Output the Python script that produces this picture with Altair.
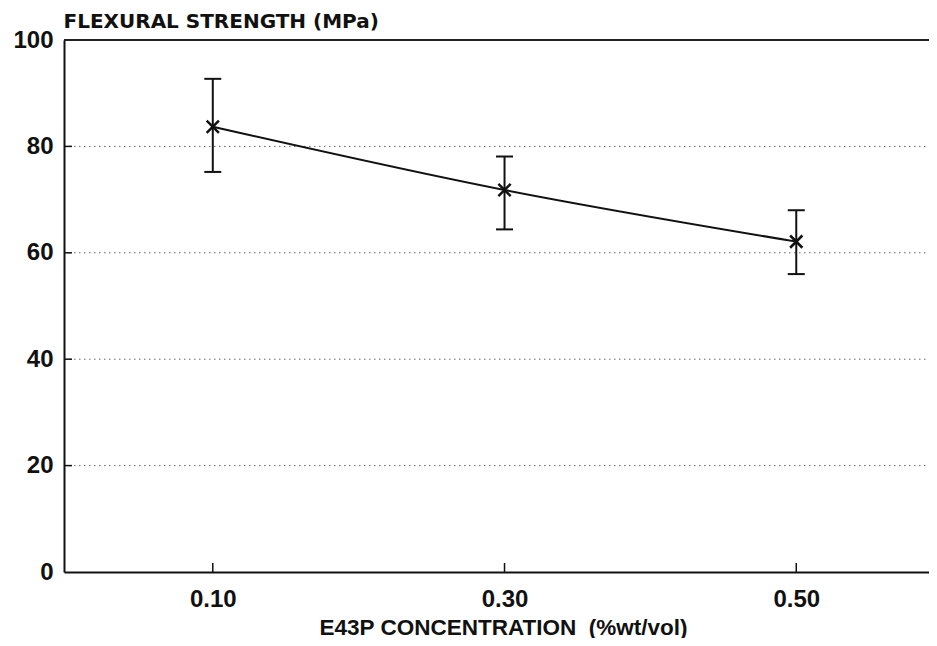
import altair as alt
import pandas as pd

# ---- data ----
concentration = [0.10, 0.30, 0.50]
strength_mean = [83.7, 71.8, 62.1]
strength_upper = [92.7, 78.1, 68.0]
strength_lower = [75.2, 64.4, 56.0]
x_tick_values = [0.10, 0.30, 0.50]
y_tick_values = [0, 20, 40, 60, 80, 100]
grid_values = [20, 40, 60, 80]

W, H = 865, 532

df = pd.DataFrame({
    "conc": concentration,
    "mean": strength_mean,
    "upper": strength_upper,
    "lower": strength_lower,
})
xticks_df = pd.DataFrame({"conc": x_tick_values})
grid_df = pd.DataFrame({"v": grid_values, "conc": [0.1, 0.1, 0.1, 0.1]})

xscale = alt.Scale(domain=[-0.002, 0.591], nice=False, zero=False)
yscale = alt.Scale(domain=[0, 100], nice=False)

x_axis = alt.Axis(
    values=x_tick_values, format=".2f", ticks=False, tickSize=0,
    grid=False, domainColor="#111", domainWidth=2,
    labelFont="Liberation Sans", labelFontWeight="bold", labelFontSize=24,
    labelColor="#111", labelPadding=15, labelBaseline="top",
    title="E43P CONCENTRATION \u00a0(%wt/vol)",
    titleFont="Liberation Sans", titleFontWeight="bold", titleFontSize=22.5,
    titleColor="#111", titleBaseline="alphabetic", titleAlign="center",
    titleX=439, titleY=62,
)
y_axis = alt.Axis(
    values=y_tick_values, ticks=False, tickSize=0, grid=False,
    domainColor="#111", domainWidth=2,
    labelFont="Liberation Sans", labelFontWeight="bold", labelFontSize=24,
    labelColor="#111", labelPadding=11, labelAlign="right",
    labelBaseline="middle",
    title="FLEXURAL STRENGTH (MPa)",
    titleFont="DejaVu Sans", titleFontWeight="bold", titleFontSize=20,
    titleColor="#111", titleAngle=0, titleAlign="left",
    titleBaseline="alphabetic", titleX=-1, titleY=-13,
)

base = alt.Chart(df)

grid = alt.Chart(grid_df).mark_rule(color="#666", strokeWidth=1, strokeDash=[1.5, 3.5]).encode(
    y=alt.Y("v:Q", scale=yscale, axis=y_axis),
    x=alt.value(0), x2=alt.value(W),
)

line = base.mark_line(interpolate="monotone", color="#111", strokeWidth=2).encode(
    x=alt.X("conc:Q", scale=xscale, axis=x_axis),
    y=alt.Y("mean:Q", scale=yscale),
)

yticks = alt.Chart(grid_df).mark_rule(color="#111", strokeWidth=1.5).encode(
    y=alt.Y("v:Q", scale=yscale),
    x=alt.value(0), x2=alt.value(8),
)

xticks = alt.Chart(xticks_df).mark_rule(color="#111", strokeWidth=1.5).encode(
    x=alt.X("conc:Q", scale=xscale),
    y=alt.value(H), y2=alt.value(H - 9),
)

top_border = alt.Chart(xticks_df).mark_rule(color="#222", strokeWidth=2).encode(
    x=alt.value(0), x2=alt.value(W), y=alt.value(0),
)

err = base.mark_rule(color="#111", strokeWidth=2).encode(
    x=alt.X("conc:Q", scale=xscale),
    y=alt.Y("lower:Q", scale=yscale),
    y2="upper:Q",
)

cap_shape = "M-1,0L1,0"
cap_hi = base.mark_point(shape=cap_shape, size=289, filled=False, color="#111", strokeWidth=2, opacity=1).encode(
    x=alt.X("conc:Q", scale=xscale),
    y=alt.Y("upper:Q", scale=yscale),
)
cap_lo = base.mark_point(shape=cap_shape, size=289, filled=False, color="#111", strokeWidth=2, opacity=1).encode(
    x=alt.X("conc:Q", scale=xscale),
    y=alt.Y("lower:Q", scale=yscale),
)

markers = base.mark_point(shape="M-1,-1L1,1M-1,1L1,-1", size=150, filled=False,
                          color="#111", strokeWidth=2.5, opacity=1).encode(
    x=alt.X("conc:Q", scale=xscale),
    y=alt.Y("mean:Q", scale=yscale),
)

chart = alt.layer(
    grid, line, err, cap_hi, cap_lo, markers, xticks, yticks, top_border
).properties(
    width=W, height=H,
    autosize=alt.AutoSizeParams(type="none"),
    padding={"left": 56, "top": 32, "right": 0, "bottom": 66},
    background="white",
).configure_view(stroke=None)

chart.save("out.html", embed_options={"renderer": "svg", "actions": False})
